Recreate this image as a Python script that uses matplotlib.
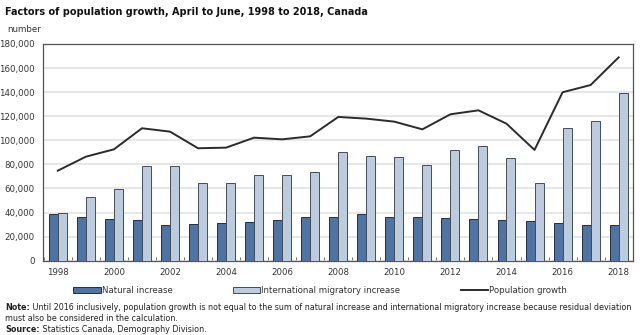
import numpy as np
import matplotlib.pyplot as plt

# Factors of population growth, April to June, 1998 to 2018, Canada
years = list(range(1998, 2019))
natural = [38800, 36000, 34600, 33500, 29700, 30500, 31300, 32100, 34100, 36600, 36600,
           38800, 36600, 36000, 35200, 34600, 34100, 33000, 31600, 29700, 29700]
international = [39600, 52900, 59300, 78700, 78700, 64300, 64800, 70900, 70900, 73400, 90300,
                 86700, 85900, 79200, 91900, 95300, 85300, 64300, 110000, 116000, 139300]
growth = [74800, 86400, 92500, 110000, 107200, 93400, 93900, 102200, 100800, 103300, 119400,
          118000, 115500, 109100, 121600, 124900, 113800, 92000, 139900, 145900, 168900]
yticks = list(range(0, 180001, 20000))
xlabels = [str(y) for y in range(1998, 2019, 2)]

plt.rcParams['font.family'] = 'DejaVu Sans'

fig = plt.figure(figsize=(6.44, 3.35), dpi=100)
ax = fig.add_axes([0.0672, 0.2218, 0.9152, 0.6469])

x = np.arange(len(years))
w = 0.32
b1 = ax.bar(x - w / 2, natural, w, color='#4f73a3', edgecolor='#1f2f4a', linewidth=0.7,
            label='Natural increase', zorder=3)
b2 = ax.bar(x + w / 2, international, w, color='#bccbdd', edgecolor='#444c58', linewidth=0.7,
            label='International migratory increase', zorder=3)
ln, = ax.plot(x, growth, color='#2b2b2b', linewidth=1.4, label='Population growth', zorder=4)

ax.set_xlim(-0.52, len(years) - 0.55)
ax.set_ylim(0, 180000)
ax.set_yticks(yticks)
ax.set_yticklabels([f'{v:,}' for v in yticks])
ax.set_xticks(x[::2])
ax.set_xticklabels(xlabels)
ax.set_xticks(np.arange(-0.5, len(years), 1), minor=True)
ax.tick_params(axis='x', which='major', length=0, labelsize=6.2, colors='#333333', pad=5)
ax.tick_params(axis='x', which='minor', length=3, color='#555555', direction='in')
ax.tick_params(axis='y', length=0, labelsize=6.2, colors='#333333', pad=6)
ax.yaxis.grid(True, color='#e3e3e3', linewidth=1.2, zorder=0)
ax.set_axisbelow(True)
for s in ax.spines.values():
    s.set_color('#555555')
    s.set_linewidth(0.9)

fig.text(0.008, 0.963, 'Factors of population growth, April to June, 1998 to 2018, Canada',
         fontsize=7, fontweight='bold', color='#111111', va='center')
fig.text(0.012, 0.912, 'number', fontsize=6.2, color='#333333', va='center')

fig.legend([b1, b2, ln], [b1.get_label(), b2.get_label(), ln.get_label()],
           loc='center', bbox_to_anchor=(0.497, 0.133), ncol=3, frameon=False,
           fontsize=6.2, handlelength=3.2, handleheight=0.7, columnspacing=7,
           handletextpad=0.1, labelcolor='#333333')

# footnotes: bold lead word followed by regular text
fig.canvas.draw()
r = fig.canvas.get_renderer()
notes = [('Note:', ' Until 2016 inclusively, population growth is not equal to the sum of natural '
          'increase and international migratory increase because residual deviation', 0.083),
         ('', 'must also be considered in the calculation.', 0.050),
         ('Source:', ' Statistics Canada, Demography Division.', 0.017)]
for bold, rest, yy in notes:
    x0 = 0.008
    if bold:
        t = fig.text(x0, yy, bold, fontsize=5.8, fontweight='bold', color='#222222', va='center')
        x0 += t.get_window_extent(r).width / fig.bbox.width
    fig.text(x0, yy, rest, fontsize=5.8, color='#222222', va='center')

fig.savefig('out.png', dpi=100)
